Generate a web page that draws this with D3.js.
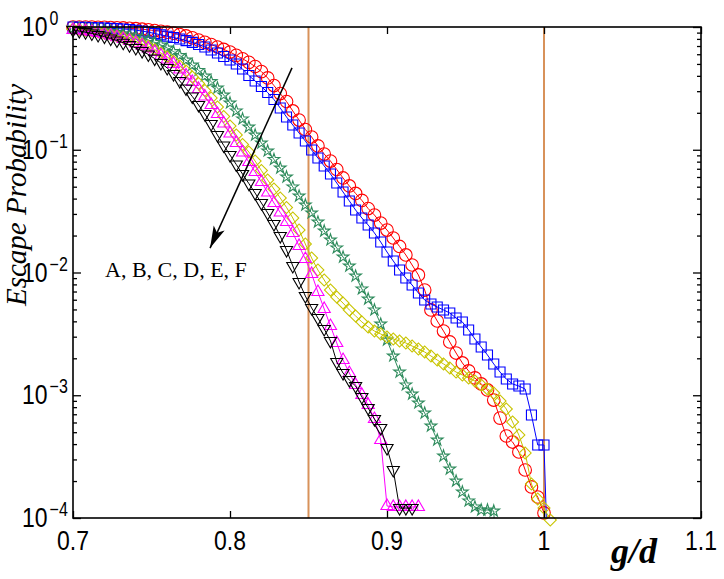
<!DOCTYPE html>
<html>
<head>
<meta charset="utf-8">
<script src="https://cdn.jsdelivr.net/npm/d3@7"></script>
<style>
  body { margin: 0; background: #fff; }
  .tick-label { font-family: "Liberation Sans", Arial, sans-serif; fill: #000; }
  .serif { font-family: "Liberation Serif", "Times New Roman", serif; fill: #000; }
</style>
</head>
<body>
<div id="chart"></div>
<script>
// g/d sample points (shared by all series, each series uses the first n of them)
const gd = [0.700,0.704,0.708,0.712,0.716,0.720,0.724,0.728,0.732,0.736,0.740,0.744,0.748,0.752,0.756,0.760,
  0.764,0.768,0.772,0.776,0.780,0.784,0.788,0.792,0.796,0.800,0.804,0.808,0.812,0.816,0.820,0.824,0.828,0.832,
  0.836,0.840,0.844,0.848,0.852,0.856,0.860,0.864,0.868,0.872,0.876,0.880,0.884,0.888,0.892,0.896,0.900,0.904,
  0.908,0.912,0.916,0.920,0.924,0.928,0.932,0.936,0.940,0.944,0.948,0.952,0.956,0.960,0.964,0.968,0.972,0.976,
  0.980,0.984,0.988,0.992,0.996,1.000,1.004];

// log10(escape probability), one array per case
const logA = [0,0,0,0,-0.002,-0.002,-0.004,-0.006,-0.008,-0.011,
  -0.014,-0.018,-0.023,-0.029,-0.035,-0.042,-0.050,-0.061,-0.073,-0.088,
  -0.106,-0.125,-0.143,-0.163,-0.183,-0.204,-0.231,-0.259,-0.288,-0.322,
  -0.363,-0.415,-0.477,-0.542,-0.607,-0.684,-0.758,-0.835,-0.896,-0.969,
  -1.035,-1.092,-1.161,-1.230,-1.295,-1.356,-1.413,-1.479,-1.532,-1.597,
  -1.654,-1.719,-1.788,-1.857,-1.939,-2.020,-2.143,-2.305,-2.395,-2.477,
  -2.566,-2.656,-2.737,-2.802,-2.859,-2.908,-2.957,-3.039,-3.186,-3.332,
  -3.381,-3.462,-3.609,-3.747,-3.829,-3.959];

const logB = [0,-0.002,-0.003,-0.005,-0.007,-0.008,-0.011,-0.013,-0.016,-0.020,
  -0.026,-0.033,-0.042,-0.053,-0.064,-0.075,-0.086,-0.098,-0.111,-0.125,
  -0.143,-0.163,-0.187,-0.212,-0.240,-0.269,-0.301,-0.342,-0.395,-0.440,
  -0.485,-0.534,-0.591,-0.660,-0.733,-0.798,-0.864,-0.929,-1.002,-1.067,
  -1.132,-1.197,-1.271,-1.344,-1.417,-1.491,-1.556,-1.613,-1.678,-1.752,
  -1.833,-1.906,-1.980,-2.045,-2.102,-2.167,-2.224,-2.257,-2.281,-2.305,
  -2.330,-2.371,-2.403,-2.468,-2.542,-2.607,-2.672,-2.745,-2.811,-2.868,
  -2.908,-2.925,-2.949,-3.161,-3.405,-3.405,-5];

const logC = [-0.008,-0.011,-0.014,-0.018,-0.023,-0.029,-0.037,-0.045,-0.055,-0.065,
  -0.077,-0.091,-0.106,-0.125,-0.147,-0.171,-0.200,-0.232,-0.269,-0.310,
  -0.354,-0.399,-0.444,-0.497,-0.554,-0.619,-0.684,-0.749,-0.815,-0.880,
  -0.945,-1.010,-1.079,-1.149,-1.222,-1.303,-1.377,-1.450,-1.515,-1.589,
  -1.662,-1.735,-1.800,-1.874,-1.947,-2.029,-2.134,-2.216,-2.305,-2.420,
  -2.550,-2.680,-2.811,-2.916,-2.990,-3.063,-3.145,-3.251,-3.365,-3.495,
  -3.601,-3.699,-3.788,-3.861,-3.910,-3.935,-3.935,-3.943,-5];

const logD = [-0.016,-0.020,-0.026,-0.033,-0.039,-0.049,-0.061,-0.073,-0.086,-0.102,
  -0.118,-0.138,-0.157,-0.183,-0.212,-0.244,-0.281,-0.318,-0.358,-0.407,
  -0.460,-0.517,-0.578,-0.652,-0.729,-0.807,-0.880,-0.957,-1.018,-1.092,
  -1.169,-1.246,-1.320,-1.393,-1.470,-1.556,-1.654,-1.768,-1.882,-1.980,
  -2.061,-2.143,-2.200,-2.249,-2.305,-2.354,-2.403,-2.444,-2.477,-2.501,
  -2.525,-2.542,-2.558,-2.574,-2.599,-2.623,-2.648,-2.680,-2.713,-2.745,
  -2.778,-2.811,-2.835,-2.859,-2.884,-2.916,-2.949,-2.982,-3.047,-3.112,
  -3.218,-3.324,-3.470,-3.723,-3.845,-3.919,-4.016];

const logE = [-0.024,-0.029,-0.034,-0.041,-0.049,-0.059,-0.070,-0.083,-0.098,-0.114,
  -0.132,-0.152,-0.175,-0.204,-0.232,-0.265,-0.301,-0.346,-0.395,-0.448,
  -0.505,-0.566,-0.635,-0.709,-0.786,-0.868,-0.945,-1.022,-1.100,-1.181,
  -1.263,-1.348,-1.434,-1.511,-1.589,-1.678,-1.784,-1.890,-2.012,-2.159,
  -2.297,-2.436,-2.574,-2.713,-2.819,-2.916,-2.998,-3.079,-3.194,-3.365,
  -3.902,-3.910,-3.910,-3.910,-3.910,-3.910];

const logF = [-0.024,-0.033,-0.042,-0.053,-0.065,-0.078,-0.094,-0.110,-0.128,-0.148,
  -0.171,-0.196,-0.224,-0.257,-0.293,-0.334,-0.383,-0.440,-0.501,-0.566,
  -0.635,-0.709,-0.790,-0.880,-0.965,-1.043,-1.120,-1.198,-1.275,-1.353,
  -1.434,-1.515,-1.605,-1.703,-1.817,-1.947,-2.077,-2.192,-2.289,-2.371,
  -2.460,-2.558,-2.729,-2.819,-2.876,-2.925,-3.014,-3.104,-3.194,-3.267,
  -3.430,-3.609,-3.919,-3.919,-3.919];

const caseNames = ["A", "B", "C", "D", "E", "F"];
const caseLogs = [logA, logB, logC, logD, logE, logF];

// axes
const xTicks = [0.7, 0.8, 0.9, 1.0, 1.1];
const xTickLabels = ["0.7", "0.8", "0.9", "1", "1.1"];
const yTicks = [1, 1e-1, 1e-2, 1e-3, 1e-4];
const yTickExponents = ["0", "\u22121", "\u22122", "\u22123", "\u22124"];
const refLines = [0.85, 1.0];

// annotation arrow (g/d, probability)
const arrowFrom = [0.8395, 0.464];
const arrowTo = [0.7873, 0.0158];
const arrowLabelAt = [0.7204, 0.0092];
const arrowLabel = "A, B, C, D, E, F";

// styles
const colors = {A: "#ff0000", B: "#0000ff", C: "#2e8b5c", D: "#c8c400", E: "#ff00ff", F: "#000000"};
const symbols = {
  A: d3.symbol(d3.symbolCircle, 125),
  B: d3.symbol(d3.symbolSquare, 100),
  C: d3.symbol(d3.symbolStar, 42),
  D: d3.symbol(d3.symbolSquare, 72),
  E: d3.symbol(d3.symbolTriangle, 64),
  F: d3.symbol(d3.symbolTriangle, 64)
};
const rotate = {A: 0, B: 0, C: 0, D: 45, E: 0, F: 180};

// Margin conventions
const margin = {top: 27, left: 73, right: 23, bottom: 61};
const width = 724 - margin.left - margin.right;
const height = 579 - margin.top - margin.bottom;

const root = d3.select("#chart").append("svg")
  .attr("width", width + margin.left + margin.right)
  .attr("height", height + margin.top + margin.bottom);

const svg = root.append("g")
  .attr("transform", `translate(${margin.left},${margin.top})`);

const xScale = d3.scaleLinear().domain([0.7, 1.1]).range([0, width]);
const yScale = d3.scaleLog().domain([1e-4, 1]).range([height, 0]);

svg.append("clipPath").attr("id", "plot-area")
  .append("rect").attr("width", width).attr("height", height);

// reference lines
svg.selectAll(".ref")
  .data(refLines)
  .join("line")
  .attr("class", "ref")
  .attr("x1", d => xScale(d)).attr("x2", d => xScale(d))
  .attr("y1", 0).attr("y2", height)
  .attr("stroke", "#d8925a")
  .attr("stroke-width", 2);

// build series
const series = caseNames.map((name, i) => ({
  name,
  values: caseLogs[i].map((v, j) => ({gd: gd[j], p: Math.pow(10, v)}))
}));

const line = d3.line()
  .x(d => xScale(d.gd))
  .y(d => yScale(d.p));

const groups = svg.selectAll(".series")
  .data(series)
  .join("g")
  .attr("class", "series");

groups.append("path")
  .attr("clip-path", "url(#plot-area)")
  .attr("d", d => line(d.values))
  .attr("fill", "none")
  .attr("stroke", d => colors[d.name])
  .attr("stroke-width", 1);

groups.each(function(s) {
  d3.select(this).selectAll(".mark")
    .data(s.values.filter(d => d.p >= 8e-5))
    .join("path")
    .attr("class", "mark")
    .attr("d", symbols[s.name])
    .attr("transform", d => `translate(${xScale(d.gd)},${yScale(d.p)}) rotate(${rotate[s.name]})`)
    .attr("fill", "none")
    .attr("stroke", colors[s.name])
    .attr("stroke-width", 1.1);
});

// frame
svg.append("rect")
  .attr("width", width).attr("height", height)
  .attr("fill", "none")
  .attr("stroke", "#000")
  .attr("stroke-width", 1.6);

// ticks (inward)
const minorTicks = yScale.ticks().filter(v => !yTicks.some(t => Math.abs(t - v) < t * 1e-6));

function drawTicks(axis, transform) {
  const g = svg.append("g").attr("transform", transform).call(axis);
  g.select(".domain").remove();
  g.selectAll("text").remove();
  g.selectAll("line").attr("stroke", "#000").attr("stroke-width", 1.3);
}
drawTicks(d3.axisBottom(xScale).tickValues(xTicks).tickSizeInner(-7).tickSizeOuter(0), `translate(0,${height})`);
drawTicks(d3.axisTop(xScale).tickValues(xTicks).tickSizeInner(-7).tickSizeOuter(0), "translate(0,0)");
drawTicks(d3.axisLeft(yScale).tickValues(yTicks).tickSizeInner(-8).tickSizeOuter(0), "translate(0,0)");
drawTicks(d3.axisLeft(yScale).tickValues(minorTicks).tickSizeInner(-4).tickSizeOuter(0), "translate(0,0)");
drawTicks(d3.axisRight(yScale).tickValues(yTicks).tickSizeInner(-8).tickSizeOuter(0), `translate(${width},0)`);
drawTicks(d3.axisRight(yScale).tickValues(minorTicks).tickSizeInner(-4).tickSizeOuter(0), `translate(${width},0)`);

// tick labels (glyphs in the original are slightly tall)
svg.selectAll(".xlab")
  .data(xTicks)
  .join("text")
  .attr("class", "tick-label")
  .attr("transform", d => `translate(${xScale(d)},${height + 32}) scale(1,1.22)`)
  .attr("text-anchor", "middle")
  .attr("font-size", 23)
  .text((d, i) => xTickLabels[i]);

const ylab = svg.selectAll(".ylab")
  .data(yTicks)
  .join("text")
  .attr("class", "tick-label")
  .attr("transform", d => `translate(-51,${yScale(d) + 9}) scale(1,1.22)`)
  .attr("font-size", 23);
ylab.append("tspan").text("10");
ylab.append("tspan")
  .attr("dx", 2)
  .attr("dy", -9)
  .attr("font-size", 16)
  .text((d, i) => yTickExponents[i]);

// axis titles
root.append("text")
  .attr("class", "serif")
  .attr("transform", "translate(26,195) rotate(-90)")
  .attr("text-anchor", "middle")
  .attr("font-style", "italic")
  .attr("font-size", 29)
  .text("Escape Probability");

root.append("text")
  .attr("class", "serif")
  .attr("x", 611)
  .attr("y", 563)
  .attr("font-style", "italic")
  .attr("font-weight", "bold")
  .attr("font-size", 36)
  .text("g/d");

// arrow annotation
const defs = root.append("defs");
defs.append("marker")
  .attr("id", "arrowhead")
  .attr("viewBox", "-24 -8 26 16")
  .attr("refX", 0).attr("refY", 0)
  .attr("markerWidth", 26).attr("markerHeight", 16)
  .attr("markerUnits", "userSpaceOnUse")
  .attr("orient", "auto")
  .append("path")
  .attr("d", "M0,0 L-22,-6 L-17,0 L-22,6 Z")
  .attr("fill", "#000");

svg.append("line")
  .attr("x1", xScale(arrowFrom[0])).attr("y1", yScale(arrowFrom[1]))
  .attr("x2", xScale(arrowTo[0])).attr("y2", yScale(arrowTo[1]))
  .attr("stroke", "#000")
  .attr("stroke-width", 1.5)
  .attr("marker-end", "url(#arrowhead)");

svg.append("text")
  .attr("class", "serif")
  .attr("x", xScale(arrowLabelAt[0]))
  .attr("y", yScale(arrowLabelAt[1]))
  .attr("font-size", 22)
  .text(arrowLabel);
</script>
</body>
</html>
